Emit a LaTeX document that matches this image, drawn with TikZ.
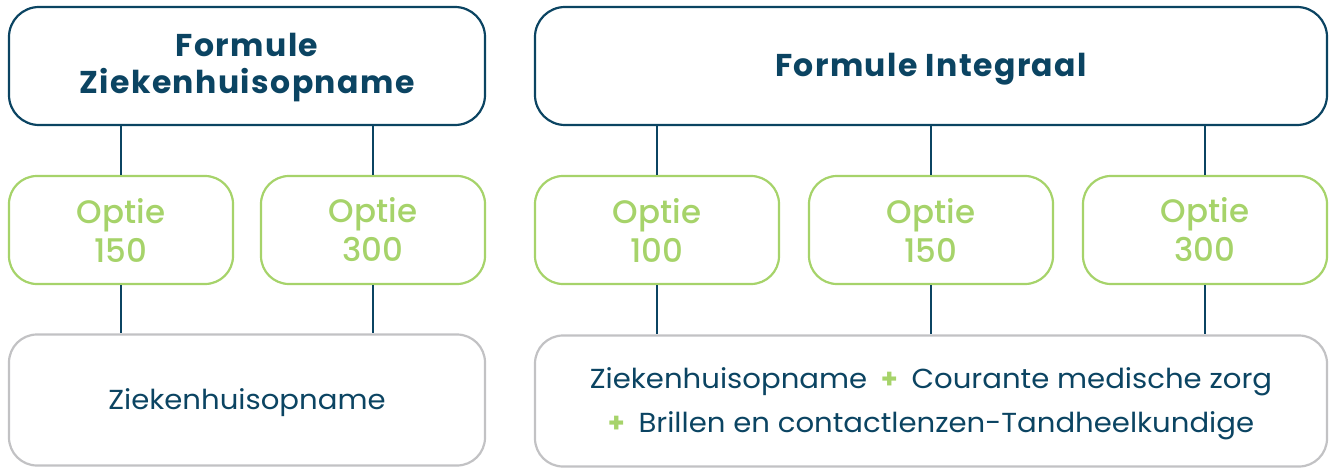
\documentclass[tikz,border=0pt]{standalone}
\usepackage{fontspec}
\setmainfont{Poppins}
\newfontfamily\titlefont{Poppins Bold}[LetterSpace=4.5]
\newfontfamily\plusfont{Poppins Bold}
\newfontfamily\optfont{Poppins Medium}
\newfontfamily\bodyfont{Poppins}[FakeStretch=1.06]
\usetikzlibrary{positioning}

\definecolor{navy}{HTML}{0B4462}
\definecolor{leaf}{HTML}{A6D36A}
\definecolor{silver}{HTML}{C2C2C4}

\tikzset{
   formbox/.style={draw=navy,line width=2.2pt,rounded corners=30pt,
      minimum height=118pt,text=navy,align=center,
      font=\titlefont\fontsize{31.5}{37}\selectfont},
   optbox/.style={draw=leaf,line width=2.2pt,rounded corners=28pt,
      minimum height=108pt,text=leaf,align=center,
      font=\optfont\fontsize{32.5}{39}\selectfont},
   coverbox/.style={draw=silver,line width=2.2pt,rounded corners=28pt,
      minimum height=131pt,text=navy,align=center,
      font=\bodyfont\fontsize{27.5}{44}\selectfont},
   link/.style={navy,line width=2pt}
}
\newcommand{\plusje}{{\color{leaf}\plusfont\fontsize{27}{27}\selectfont +}}
\newcommand{\zakje}[1]{\raisebox{-3pt}[\height][\depth]{#1}}

\begin{document}
\begin{tikzpicture}[x=1pt,y=-1pt]
            \useasboundingbox (0,0) rectangle (1335,468);

            % formules
            \node [formbox,minimum width=476pt] (fzh) at (247,66)
               {\rule{0pt}{27pt}Formule\\Ziekenhuisopname};
            \node [formbox,minimum width=792pt] (fint) at (931,66)
               {\zakje{Formule Integraal}};

            % opties
            \node [optbox,minimum width=224pt] (o1) at (121,230) {Optie\\150};
            \node [optbox,minimum width=224pt] (o2) at (373,230) {Optie\\300};
            \node [optbox,minimum width=244pt] (o3) at (657,230) {Optie\\100};
            \node [optbox,minimum width=244pt] (o4) at (931,230) {Optie\\150};
            \node [optbox,minimum width=244pt] (o5) at (1205,230) {Optie\\300};

            % dekking
            \node [coverbox,minimum width=476pt] (dzh) at (247,400)
               {\zakje{Ziekenhuisopname}};
            \node [coverbox,minimum width=792pt] (dint) at (931,401)
               {\zakje{Ziekenhuisopname\enspace\plusje\enspace Courante medische zorg}\\
                \zakje{\plusje\enspace Brillen en contactlenzen-Tandheelkundige}};

            \foreach \o/\f/\d in {o1/fzh/dzh,o2/fzh/dzh,o3/fint/dint,o4/fint/dint,o5/fint/dint}
               \draw [link] (\f.south -| \o) -- (\o.north)
                            (\o.south) -- (\o.south |- \d.north);
\end{tikzpicture}
\end{document}
